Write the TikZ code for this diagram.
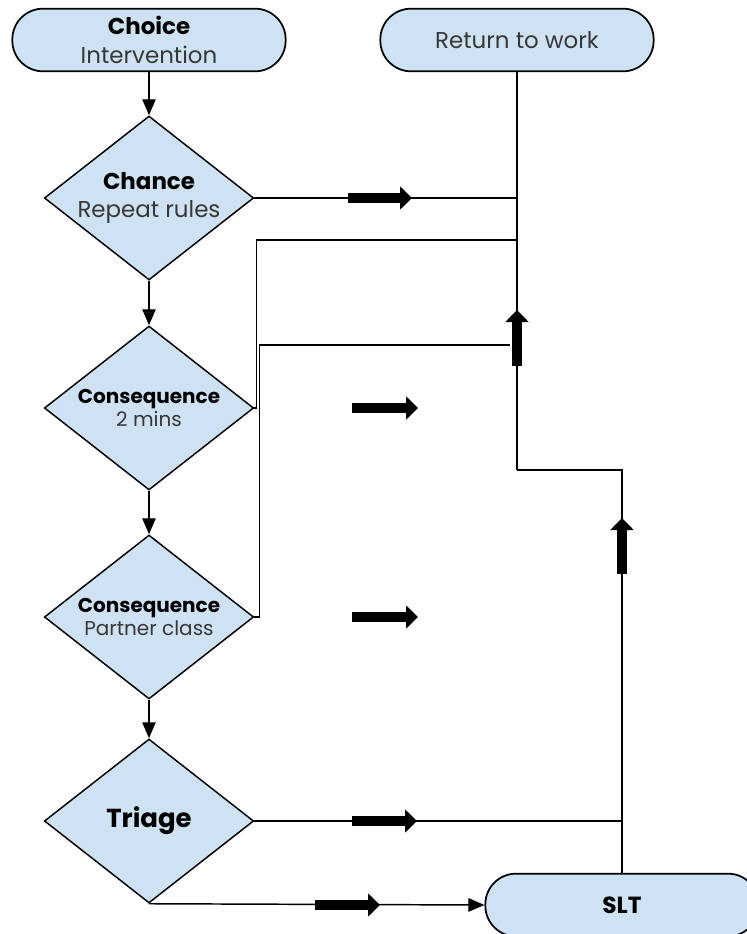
\documentclass[tikz,border=0pt]{standalone}
\usepackage{fontspec}
\setmainfont{Poppins}
\usetikzlibrary{shapes.geometric,arrows.meta}
\definecolor{boxblue}{RGB}{207,226,243}
\definecolor{txtgrey}{RGB}{55,55,55}
\begin{document}
\begin{tikzpicture}[x=0.75pt,y=-0.75pt,
  pill/.style={draw=black, line width=1.3pt, fill=boxblue, rounded corners=23pt,
    minimum width=205pt, minimum height=47pt, inner sep=0pt, align=center},
  dia/.style={diamond, draw=black, line width=1.1pt, fill=boxblue,
    minimum width=157pt, minimum height=123pt, inner sep=-30pt, align=center},
  flow/.style={line width=1.1pt, -{Triangle[width=10pt,length=12pt]}},
  conn/.style={line width=1.2pt},
  mainline/.style={line width=2pt},
  blockarrow/.style={line width=8pt, -{Triangle[width=17pt,length=9pt]}},
  big/.style={font=\fontsize{17.2}{21.5}\selectfont},
  mid/.style={font=\fontsize{15}{17.5}\selectfont},
]
\useasboundingbox (0,0) rectangle (746,934);

% nodes
\node[pill, big] (choice) at (149,40) {\textbf{Choice}\\{\color{txtgrey}Intervention}};
\node[pill, big] (rtw) at (517,40) {{\color{txtgrey}Return to work}};
\node[dia, big] (chance) at (149,198) {\textbf{Chance}\\{\color{txtgrey}Repeat rules}};
\node[dia, mid] (cons1) at (149,408) {\textbf{Consequence}\\{\color{txtgrey}2 mins}};
\node[dia, mid] (cons2) at (149,617) {\textbf{Consequence}\\{\color{txtgrey}Partner class}};
\node[dia, font=\fontsize{19.5}{22}\selectfont] (triage) at (149,821) {\textbf{Triage}};
\node[pill, font=\fontsize{17.5}{20}\selectfont] (slt) at (622,905) {\textbf{SLT}};

% coordinates
\coordinate (j1) at (517,470);
\coordinate (j2) at (622,470);
\coordinate (j3) at (622,821);
\coordinate (m198) at (517,198);
\coordinate (m240) at (517,240);
\coordinate (m345) at (510,345);

% vertical flow
\draw[flow] (choice) -- (chance);
\draw[flow] (chance) -- (cons1);
\draw[flow] (cons1) -- (cons2);
\draw[flow] (cons2) -- (triage);

% main return line
\draw[mainline] (rtw.south) -- (j1);
\draw[conn] (j1) -- (j2) -- (slt.north);

% branches
\draw[conn] (chance.east) -- (m198);
\draw[conn] (cons1.east) -- ++(2,0) |- (m240);
\draw[conn] (cons2.east) -- ++(5,0) |- (m345);
\draw[conn] (triage.east) -- (j3);
\draw[flow] (triage.south) -- (slt.west);

% block arrows
\draw[blockarrow] (348,198) -- (412,198);
\draw[blockarrow] (352,408) -- (418,408);
\draw[blockarrow] (352,617) -- (418,617);
\draw[blockarrow] (352,821) -- (417,821);
\draw[blockarrow] (315,905) -- (380,905);
\draw[blockarrow] (517,366) -- (517,310);
\draw[blockarrow] (622,574) -- (622,518);
\end{tikzpicture}
\end{document}
